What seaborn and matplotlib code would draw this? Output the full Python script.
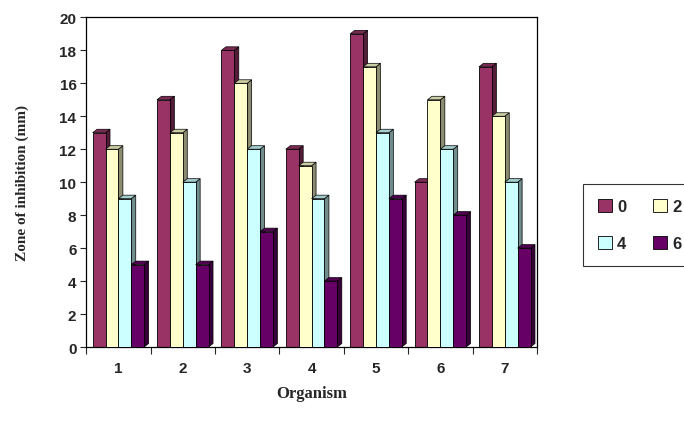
import matplotlib
matplotlib.use("Agg")
import matplotlib.pyplot as plt
import seaborn as sns
import pandas as pd
import numpy as np
from matplotlib.patches import Polygon
from matplotlib.transforms import IdentityTransform

organisms = ["1", "2", "3", "4", "5", "6", "7"]
series = ["0", "2", "4", "6"]
v0 = [13, 15, 18, 12, 19, 10, 17]
v2 = [12, 13, 16, 11, 17, 15, 14]
v4 = [9, 10, 12, 9, 13, 12, 10]
v6 = [5, 5, 7, 4, 9, 8, 6]
colors = ["#993366", "#FFFFCC", "#CCFFFF", "#660066"]

rows = []
for s, vals in zip(series, [v0, v2, v4, v6]):
    for o, v in zip(organisms, vals):
        rows.append({"Organism": o, "Conc": s, "Zone": v})
df = pd.DataFrame(rows)

sns.set_style("white")
plt.rcParams['font.family'] = ['Liberation Sans', 'DejaVu Sans']

fig = plt.figure(figsize=(6.84, 4.27), dpi=100)
ax = fig.add_axes([0.126, 0.185, 0.659, 0.772])
sns.barplot(data=df, x="Organism", y="Zone", hue="Conc", order=organisms,
            hue_order=series, palette=colors, edgecolor="black", linewidth=0.6,
            width=0.8, ax=ax, legend=True, saturation=1)

ax.set_ylim(0, 20)
ax.set_xlim(-0.5, 6.5)
ax.set_yticks(range(0, 21, 2))
ax.set_yticklabels([str(t) for t in range(0, 21, 2)], fontweight="bold", fontsize=11)
ax.set_xticklabels(organisms, fontweight="bold", fontsize=11)
ax.set_xticks(np.arange(-0.5, 7, 1), minor=True)
ax.tick_params(axis="x", which="major", length=0, pad=10)
ax.tick_params(axis="x", which="minor", length=5, width=0.8, direction="out", bottom=True)
ax.tick_params(axis="y", which="major", length=4, width=0.8, direction="out", left=True, pad=3)
for sp in ax.spines.values():
    sp.set_visible(True)
    sp.set_color("black")
    sp.set_linewidth(0.9)

# 3D-like depth faces derived from the drawn bars
d = np.array([4.5, 3.5])
tr = ax.transData
for k, cont in enumerate(ax.containers):
    for p in cont.patches:
        p.set_zorder(2 + k)
        x0, y0 = p.get_x(), p.get_y()
        w, h = p.get_width(), p.get_height()
        fc = np.array(p.get_facecolor())
        side = fc.copy(); side[:3] *= 0.55
        top = fc.copy(); top[:3] *= 0.8
        pts = tr.transform([(x0 + w, y0), (x0 + w, y0 + h)])
        ax.add_artist(Polygon([pts[0], pts[1], pts[1] + d, pts[0] + d], closed=True,
                              transform=IdentityTransform(), facecolor=side, edgecolor="black",
                              linewidth=0.5, zorder=1.5 + k, clip_on=False))
        pts2 = tr.transform([(x0, y0 + h), (x0 + w, y0 + h)])
        ax.add_artist(Polygon([pts2[0], pts2[1], pts2[1] + d, pts2[0] + d], closed=True,
                              transform=IdentityTransform(), facecolor=top, edgecolor="black",
                              linewidth=0.5, zorder=1.5 + k, clip_on=False))

ax.set_xlabel("Organism", family="Liberation Serif", fontweight="bold", fontsize=12, labelpad=7)
ax.set_ylabel("Zone of inhibition (mm)", family="Liberation Serif", fontweight="bold", fontsize=11, labelpad=22)

handles, labels = ax.get_legend_handles_labels()
ax.legend_.remove()
order = [0, 2, 1, 3]
leg = fig.legend([handles[i] for i in order], [labels[i] for i in order], ncol=2,
                 loc="upper left", bbox_to_anchor=(0.852, 0.567), borderaxespad=0,
                 frameon=True, fancybox=False, edgecolor="black",
                 prop={"weight": "bold", "size": 12}, handlelength=0.85, handleheight=0.85,
                 handletextpad=0.3, columnspacing=1.6, labelspacing=1.3, borderpad=0.9)
leg.get_frame().set_linewidth(0.8)

fig.savefig("out.png", dpi=100)
